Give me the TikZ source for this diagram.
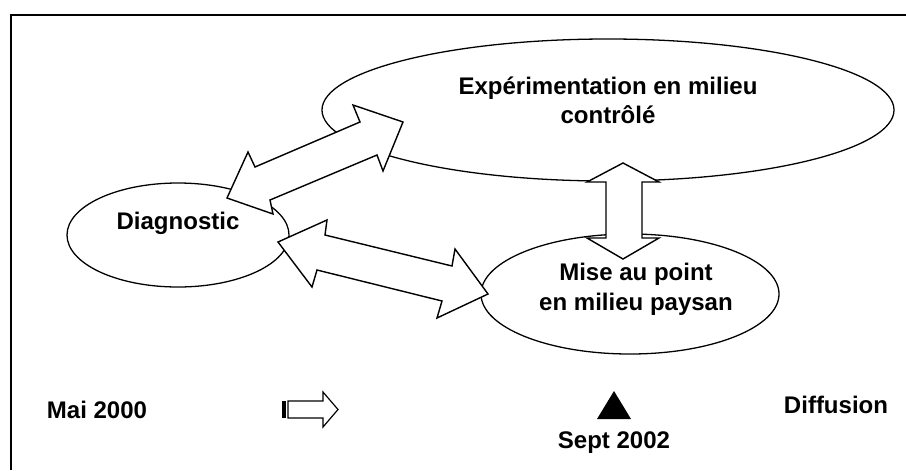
\documentclass[tikz,border=0pt]{standalone}
\usepackage{fontspec}
\setmainfont{Liberation Sans}
\usetikzlibrary{shapes.geometric}

\begin{document}
\begin{tikzpicture}[x=0.03cm,y=-0.03cm,
  bubble/.style={draw,ellipse,inner sep=0pt,line width=1.1pt},
  lbl/.style={font=\fontsize{20.5}{25.6}\selectfont\bfseries,inner sep=0pt,anchor=base},
  blockarrow/.style={draw,fill=white,line width=1.2pt,line join=miter}]
\useasboundingbox (0,0) rectangle (906,470);
\draw[line width=1.6pt] (11,470) -- (11,15) -- (906,15);
\node[bubble,minimum width=17.16cm,minimum height=4.26cm] (exp) at (608,110) {};
\node[bubble,minimum width=6.66cm,minimum height=3.12cm] (diag) at (178,235) {};
\node[bubble,minimum width=8.94cm,minimum height=3.6cm] (mise) at (630,294) {};
\draw[blockarrow] (403,122) -- (353,105) -- (360,122) -- (255,167) -- (248,152) -- (227,198)
  -- (273,214) -- (270,200) -- (377,155) -- (383,171) -- cycle;
\draw[blockarrow] (278,242) -- (327,220) -- (325,235) -- (452,266) -- (455,249) -- (488,294)
  -- (437,318) -- (442,301) -- (317,270) -- (312,287) -- cycle;
\draw[blockarrow] (623,163) -- (659,182) -- (642,182) -- (642,238) -- (659,238) -- (623,259)
  -- (587,238) -- (606,238) -- (606,182) -- (587,182) -- cycle;
\node[lbl] (exp1) at (608,94) {Expérimentation en milieu};
\node[lbl] (exp2) at (608,123) {contrôlé};
\node[lbl] (diagt) at (178,229) {Diagnostic};
\node[lbl] (mise1) at (636,280) {Mise au point};
\node[lbl] (mise2) at (636,310) {en milieu paysan};
\node[lbl] (mai) at (97,418) {Mai 2000};
\node[lbl] (diff) at (836,413) {Diffusion};
\node[lbl] (sept) at (614,448) {Sept 2002};
\fill (282,401) rectangle (285.5,418);
\draw[line width=1pt,line join=miter] (288,401) -- (323,401) -- (323,392) -- (338,409.5)
  -- (323,427) -- (323,418) -- (288,418) -- cycle;
\fill (614,391) -- (631,419) -- (597,419) -- cycle;
\end{tikzpicture}
\end{document}
